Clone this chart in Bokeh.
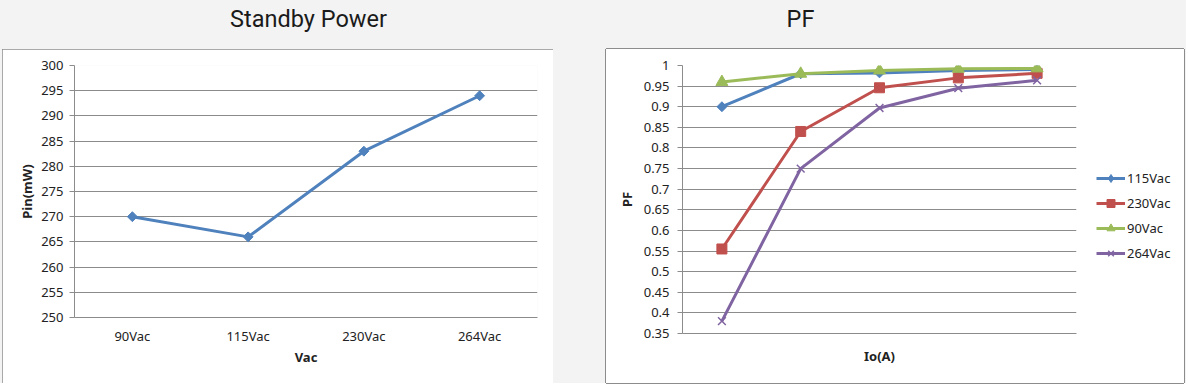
import numpy as np
from bokeh.plotting import figure
from bokeh.models import (Range1d, FactorRange, FixedTicker, Legend, LegendItem,
                          Label, Column, Row, Spacer, CustomJSTickFormatter)
from bokeh.embed import file_html
from bokeh.resources import INLINE

# ---------------- data ----------------
standby_categories = ["90Vac", "115Vac", "230Vac", "264Vac"]
standby_pin_mw = [270, 266, 283, 294]
standby_ticks = [250, 255, 260, 265, 270, 275, 280, 285, 290, 295, 300]

io_points = [1, 2, 3, 4, 5]
pf_115vac = [0.90, 0.980, 0.982, 0.988, 0.990]
pf_230vac = [0.555, 0.840, 0.946, 0.970, 0.981]
pf_90vac = [0.960, 0.980, 0.988, 0.992, 0.993]
pf_264vac = [0.380, 0.750, 0.897, 0.945, 0.964]
pf_ticks = [0.35, 0.4, 0.45, 0.5, 0.55, 0.6, 0.65, 0.7, 0.75, 0.8, 0.85, 0.9, 0.95, 1.0]

# name, values, colour, marker, size, angle, legend marker
pf_series = [
    ("115Vac", pf_115vac, "#4F81BD", "square", 7, np.pi / 4, "diamond"),
    ("230Vac", pf_230vac, "#C0504D", "square", 10, 0.0, "square"),
    ("90Vac", pf_90vac, "#9BBB59", "triangle", 12, 0.0, "triangle"),
    ("264Vac", pf_264vac, "#8064A2", "x", 11, 0.0, "x"),
]

# ---------------- styles ----------------
BG = "#f3f3f3"
GRID = "#8c8c8c"
EDGE = "#8c8c8c"
TXT = "#222222"
FONT = "Noto Sans"
TITLE_FONT = "Roboto"


def style_common(p):
    p.background_fill_color = "white"
    p.border_fill_color = "white"
    p.outline_line_color = None
    p.xgrid.visible = False
    p.ygrid.grid_line_color = GRID
    for ax in (p.xaxis[0], p.yaxis[0]):
        ax.axis_line_color = GRID
        ax.major_tick_line_color = GRID
        ax.minor_tick_line_color = None
        ax.minor_tick_out = 0
        ax.minor_tick_in = 0
        ax.major_label_text_font = FONT
        ax.major_label_text_font_size = "13px"
        ax.major_label_text_color = TXT
        ax.axis_label_text_font = FONT
        ax.axis_label_text_font_size = "13px"
        ax.axis_label_text_font_style = "bold"
        ax.axis_label_text_color = TXT


# ---------------- title strip ----------------
pt = figure(width=1186, height=49, x_range=Range1d(0, 1186), y_range=Range1d(0, 49),
            output_backend="svg", toolbar_location=None,
            x_axis_location=None, y_axis_location=None,
            min_border=0, min_border_left=0, min_border_right=0,
            min_border_top=0, min_border_bottom=0)
pt.background_fill_color = BG
pt.border_fill_color = BG
pt.outline_line_color = None
pt.grid.visible = False
for txt, xc in (("Standby Power", 308), ("PF", 800)):
    pt.add_layout(Label(x=xc, y=31, text=txt, text_align="center", text_baseline="middle",
                        text_font=TITLE_FONT, text_font_size="23.5px",
                        text_color="#1a1a1a"))

# ---------------- left chart: standby power ----------------
pL = figure(width=551, height=334,
            x_range=FactorRange(factors=standby_categories, range_padding=0),
            y_range=Range1d(250, 300),
            output_backend="svg", toolbar_location=None,
            min_border_left=72, min_border_right=16,
            min_border_top=16, min_border_bottom=66)
style_common(pL)
pL.styles = {"outline": f"1px solid {EDGE}", "outline-offset": "-1px"}
pL.yaxis.ticker = FixedTicker(ticks=standby_ticks)
pL.yaxis.major_tick_out = 5
pL.yaxis.major_tick_in = 0
pL.yaxis.major_label_standoff = 6
pL.yaxis.axis_label = "Pin(mW)"
pL.yaxis.axis_label_standoff = 2
pL.xaxis.major_tick_line_color = None
pL.xaxis.major_tick_out = 0
pL.xaxis.major_tick_in = 0
pL.xaxis.major_label_standoff = 9
pL.xaxis.axis_label = "Vac"
pL.xaxis.axis_label_standoff = 0

pL.line(standby_categories, standby_pin_mw, line_color="#4F81BD", line_width=3)
pL.scatter(standby_categories, standby_pin_mw, marker="square", size=7, angle=np.pi / 4,
           fill_color="#4F81BD", line_color="#4F81BD")

# ---------------- right chart: PF ----------------
pR = figure(width=480, height=334,
            x_range=Range1d(0.5, 5.5), y_range=Range1d(0.35, 1.0),
            output_backend="svg", toolbar_location=None,
            min_border_left=76, min_border_right=10,
            min_border_top=16, min_border_bottom=50)
style_common(pR)
pR.styles = {"box-shadow": f"-1px 0 0 {EDGE}, 0 -1px 0 {EDGE}, 0 1px 0 {EDGE}"}
pR.yaxis.ticker = FixedTicker(ticks=pf_ticks)
pR.yaxis.formatter = CustomJSTickFormatter(
    code="return tick.toFixed(2).replace(/0+$/, '').replace(/\\.$/, '');")
pR.yaxis.major_tick_out = 5
pR.yaxis.major_tick_in = 0
pR.yaxis.major_label_standoff = 8
pR.yaxis.axis_label = "PF"
pR.yaxis.axis_label_standoff = 5
pR.xaxis.ticker = FixedTicker(ticks=[])
pR.xaxis.major_tick_line_color = None
pR.xaxis.major_tick_out = 0
pR.xaxis.major_tick_in = 0
pR.xaxis.axis_label = "Io(A)"
pR.xaxis.axis_label_standoff = 13

# legend panel: a white figure to the right of the PF plot area; its swatch
# renderers carry the same series data but lie outside its (empty) view range
pLeg = figure(width=98, height=334, x_range=Range1d(-20, -10), y_range=Range1d(-20, -10),
              output_backend="svg", toolbar_location=None,
              x_axis_location=None, y_axis_location=None,
              min_border=0, min_border_left=0, min_border_right=0,
              min_border_top=0, min_border_bottom=0)
pLeg.background_fill_color = "white"
pLeg.border_fill_color = "white"
pLeg.outline_line_color = None
pLeg.grid.visible = False
pLeg.styles = {"box-shadow": f"1px 0 0 {EDGE}, 0 -1px 0 {EDGE}, 0 1px 0 {EDGE}"}

items = []
for name, vals, col, mk, sz, ang, leg_mk in pf_series:
    pR.line(io_points, vals, line_color=col, line_width=3)
    pR.scatter(io_points, vals, marker=mk, size=sz, angle=ang,
               fill_color=col, line_color=col, line_width=1.5 if mk == "x" else 1)
    lr = pLeg.line(io_points, vals, line_color=col, line_width=3)
    sr = pLeg.scatter(io_points, vals, marker=leg_mk,
                      size=(10 if leg_mk == "diamond" else sz),
                      fill_color=col, line_color=col, line_width=1.5 if mk == "x" else 1)
    items.append(LegendItem(label=name, renderers=[lr, sr]))

legend = Legend(items=items, location=(10, 70), orientation="vertical",
                glyph_width=29, glyph_height=20, spacing=5, padding=0, margin=0,
                label_standoff=2, label_text_font=FONT, label_text_font_size="13px",
                label_text_color=TXT, border_line_color=None, background_fill_alpha=0)
pLeg.add_layout(legend, "center")

right_box = Row(children=[pR, pLeg], spacing=0, styles={"background-color": "white"})

# ---------------- layout ----------------
charts = Row(children=[Spacer(width=2, height=334), pL, Spacer(width=53, height=334), right_box],
             spacing=0, styles={"background-color": BG})
layout = Column(children=[pt, charts], spacing=0, styles={"background-color": BG})

open("out.html", "w").write(file_html(layout, INLINE))
